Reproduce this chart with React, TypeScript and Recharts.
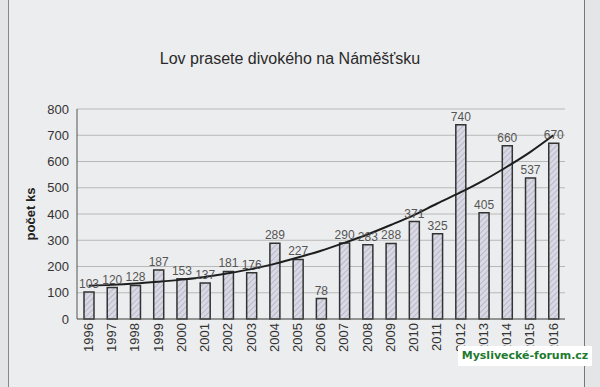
import { ComposedChart, Bar, Line, XAxis, YAxis, CartesianGrid, LabelList, Label } from 'recharts'

const years = ['1996', '1997', '1998', '1999', '2000', '2001', '2002', '2003', '2004', '2005', '2006',
  '2007', '2008', '2009', '2010', '2011', '2012', '2013', '2014', '2015', '2016']
const counts = [103, 120, 128, 187, 153, 137, 181, 176, 289, 227, 78, 290, 283, 288, 371, 325, 740, 405, 660, 537, 670]
// trend curve
const trend = [127, 130, 135, 142, 150, 160, 174, 190, 210, 234, 260, 290, 322, 358, 396, 440, 482, 528, 580, 636, 700]
const yTicks = [0, 100, 200, 300, 400, 500, 600, 700, 800]

const data = years.map((y, i) => ({ year: y, count: counts[i], trend: trend[i] }))

const TICK = { fill: '#333', fontSize: 13, fontFamily: 'Liberation Sans, Arial, sans-serif' }

export default function App() {
  return (
    <div style={{ position: 'absolute', left: 0, top: 0, width: 600, height: 387, background: '#e4e5e7', overflow: 'hidden' }}>
      <div style={{ position: 'absolute', left: 8, top: -2, width: 575, height: 392, borderLeft: '1px solid #888', borderRight: '1px solid #777', background: '#ecedee' }} />
      <div style={{
        position: 'absolute', left: 0, width: 580, top: 50, textAlign: 'center',
        fontFamily: 'Liberation Sans, Arial, sans-serif', fontSize: 16, color: '#2a2a2a',
      }}>
        Lov prasete divokého na Náměšťsku
      </div>
      <div style={{ position: 'absolute', left: 0, top: 0 }}>
        <ComposedChart width={600} height={387} data={data} margin={{ top: 109, right: 35, bottom: 28, left: 0 }}>
          <defs>
            <pattern id="hatch" width="4" height="4" patternUnits="userSpaceOnUse" patternTransform="rotate(45)">
              <rect width="4" height="4" fill="#d9d9e6" />
              <line x1="0" y1="0" x2="0" y2="4" stroke="#9a9aa8" strokeWidth="1" />
            </pattern>
          </defs>
          <CartesianGrid vertical={false} stroke="#b8b8b8" />
          <XAxis
            dataKey="year"
            interval={0}
            angle={-90}
            textAnchor="end"
            dy={-4}
            dx={-5}
            height={40}
            tick={TICK}
            tickLine={false}
            axisLine={{ stroke: '#555' }}
          />
          <YAxis
            domain={[0, 800]}
            ticks={yTicks}
            width={77}
            tick={TICK}
            tickLine={false}
            axisLine={{ stroke: '#555' }}
          >
            <Label value="počet ks" angle={-90} position="insideLeft" offset={30}
              style={{ fontSize: 13, fontWeight: 'bold', fill: '#222', fontFamily: 'Liberation Sans, Arial, sans-serif', textAnchor: 'middle' }} />
          </YAxis>
          <Bar dataKey="count" barSize={10} fill="url(#hatch)" stroke="#333" strokeWidth={1.5} isAnimationActive={false}>
            <LabelList dataKey="count" position="top" offset={4}
              style={{ fontSize: 12, fill: '#555', fontFamily: 'Liberation Sans, Arial, sans-serif' }} />
          </Bar>
          <Line dataKey="trend" type="monotone" stroke="#1e1e1e" strokeWidth={2} dot={false} isAnimationActive={false} />
        </ComposedChart>
      </div>
      <div style={{
        position: 'absolute', left: 458, top: 346, width: 134, height: 20, background: '#fff',
        color: '#1e7a2e', fontWeight: 'bold', fontSize: 11, fontFamily: 'DejaVu Sans, sans-serif',
        lineHeight: '20px', textAlign: 'center', whiteSpace: 'nowrap',
      }}>
        Myslivecké-forum.cz
      </div>
    </div>
  )
}
